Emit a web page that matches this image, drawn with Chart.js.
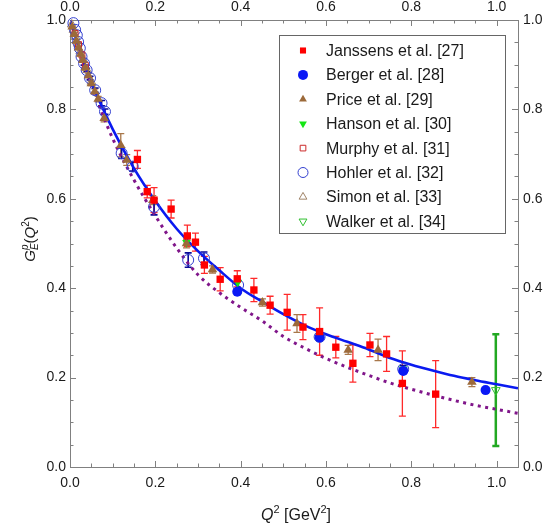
<!DOCTYPE html>
<html>
<head>
<meta charset="utf-8">
<script src="https://cdn.jsdelivr.net/npm/chart.js@4.4.0/dist/chart.umd.min.js"></script>
<style>
  html, body { margin: 0; padding: 0; background: #fff; }
  #wrap { width: 559px; height: 529px; position: relative; }
</style>
</head>
<body>
<div id="wrap"><canvas id="ffChart"></canvas></div>
<script>
// values: Q^2 [GeV^2], G_E^p, error
var janX = [0.158, 0.181, 0.197, 0.237, 0.275, 0.294, 0.315, 0.352, 0.392, 0.431, 0.469, 0.509, 0.546, 0.585, 0.623, 0.663, 0.703, 0.742, 0.779, 0.857];
var janY = [0.688, 0.616, 0.597, 0.577, 0.517, 0.503, 0.452, 0.420, 0.421, 0.396, 0.362, 0.346, 0.313, 0.303, 0.268, 0.232, 0.273, 0.253, 0.187, 0.163];
var janErr = [0.020, 0.014, 0.028, 0.020, 0.024, 0.020, 0.019, 0.026, 0.018, 0.026, 0.020, 0.040, 0.028, 0.053, 0.024, 0.042, 0.026, 0.039, 0.073, 0.075];

var berX = [0.392, 0.585, 0.781, 0.974];
var berY = [0.392, 0.290, 0.215, 0.172];

var priX = [0.005, 0.010, 0.015, 0.020, 0.025, 0.030, 0.036, 0.043, 0.050, 0.058, 0.066, 0.080, 0.119, 0.133, 0.194, 0.273, 0.334, 0.451, 0.532, 0.652, 0.722, 0.942];
var priY = [0.985, 0.968, 0.953, 0.938, 0.924, 0.910, 0.893, 0.876, 0.858, 0.840, 0.823, 0.780, 0.720, 0.687, 0.597, 0.500, 0.442, 0.368, 0.321, 0.262, 0.262, 0.190];
var priErr = [0.004, 0.004, 0.004, 0.004, 0.004, 0.004, 0.005, 0.005, 0.005, 0.006, 0.006, 0.008, 0.026, 0.012, 0.010, 0.010, 0.008, 0.008, 0.020, 0.010, 0.024, 0.010];

var hanX = [0.273, 0.393, 0.585, 0.781];
var hanY = [0.502, 0.413, 0.291, 0.219];

var murX = [0.012, 0.020, 0.028, 0.036];
var murY = [0.970, 0.945, 0.922, 0.898];

var hohX = [0.008, 0.012, 0.016, 0.019, 0.023, 0.027, 0.033, 0.039, 0.047, 0.059, 0.074, 0.082, 0.121, 0.147, 0.197, 0.277, 0.314, 0.394, 0.585, 0.781];
var hohY = [0.993, 0.978, 0.966, 0.951, 0.937, 0.918, 0.903, 0.888, 0.870, 0.843, 0.814, 0.795, 0.702, 0.672, 0.582, 0.463, 0.467, 0.407, 0.291, 0.219];
var hohErr = [0.003, 0.003, 0.003, 0.003, 0.003, 0.003, 0.004, 0.004, 0.004, 0.005, 0.006, 0.006, 0.012, 0.010, 0.018, 0.016, 0.014, 0.010, 0.008, 0.008];

var simX = [0.004, 0.008, 0.013, 0.018, 0.024, 0.030, 0.040, 0.050];
var simY = [0.990, 0.978, 0.962, 0.947, 0.930, 0.912, 0.888, 0.862];

var walX = [0.998];
var walY = [0.172];
var walErr = [0.125];

// the two curves, read at fixed Q^2 steps
var curveX = [0, 0.05, 0.10, 0.15, 0.20, 0.25, 0.30, 0.35, 0.40, 0.45, 0.50, 0.55, 0.60, 0.65, 0.70, 0.75, 0.80, 0.85, 0.90, 0.95, 1.00, 1.05];
var fitY = [1.0, 0.862, 0.756, 0.668, 0.595, 0.533, 0.483, 0.440, 0.400, 0.370, 0.342, 0.317, 0.297, 0.280, 0.263, 0.244, 0.229, 0.216, 0.204, 0.194, 0.185, 0.176];
var dotY = [1.0, 0.855, 0.735, 0.642, 0.562, 0.490, 0.430, 0.390, 0.357, 0.327, 0.292, 0.266, 0.243, 0.223, 0.205, 0.188, 0.174, 0.161, 0.149, 0.138, 0.129, 0.120];

var legendLabels = ['Janssens et al. [27]', 'Berger et al. [28]', 'Price et al. [29]', 'Hanson et al. [30]',
  'Murphy et al. [31]', 'Hohler et al. [32]', 'Simon et al. [33]', 'Walker et al. [34]'];

var FONT = '"Liberation Sans", Arial, Helvetica, sans-serif';
var frameColor = '#808080';
var textColor = '#1a1a1a';

function pts(xs, ys) {
  return xs.map(function (x, i) { return { x: x, y: ys[i] }; });
}

function markerSet(label, xs, ys, o) {
  return {
    label: label,
    data: pts(xs, ys),
    showLine: false,
    pointStyle: o.style,
    pointRotation: o.rot || 0,
    pointRadius: o.r,
    pointBackgroundColor: o.fill,
    pointBorderColor: o.stroke,
    pointBorderWidth: o.bw,
    errors: o.err || null,
    errColor: o.errColor,
    errWidth: o.errWidth || 1.3,
    legendR: o.lr,
    clip: 10,
    order: 1
  };
}

// error bars with caps, through the chart's own scales
var errorBars = {
  id: 'errorBars',
  beforeDatasetsDraw: function (chart) {
    var ctx = chart.ctx, xs = chart.scales.x, ys = chart.scales.y;
    chart.data.datasets.forEach(function (ds) {
      if (!ds.errors) return;
      ctx.save();
      ctx.strokeStyle = ds.errColor;
      ctx.lineWidth = ds.errWidth;
      ds.data.forEach(function (p, i) {
        var e = ds.errors[i];
        var px = xs.getPixelForValue(p.x);
        var y1 = ys.getPixelForValue(p.y + e), y2 = ys.getPixelForValue(p.y - e);
        if (y2 - y1 < 3) return;
        ctx.beginPath();
        ctx.moveTo(px, y1); ctx.lineTo(px, y2);
        ctx.moveTo(px - 3.5, y1); ctx.lineTo(px + 3.5, y1);
        ctx.moveTo(px - 3.5, y2); ctx.lineTo(px + 3.5, y2);
        ctx.stroke();
      });
      ctx.restore();
    });
  }
};

// inward ticks on all four sides of the frame
var frameTicks = {
  id: 'frameTicks',
  beforeDatasetsDraw: function (chart) {
    var ctx = chart.ctx, a = chart.chartArea, xs = chart.scales.x, ys = chart.scales.y;
    ctx.save();
    ctx.strokeStyle = frameColor;
    ctx.lineWidth = 1;
    ctx.beginPath();
    for (var k = 0; k <= 21; k++) {
      var px = Math.round(xs.getPixelForValue(k * 0.05)) + 0.5;
      var len = k % 4 === 0 ? 6 : 3.5;
      ctx.moveTo(px, a.bottom); ctx.lineTo(px, a.bottom - len);
      ctx.moveTo(px, a.top); ctx.lineTo(px, a.top + len);
    }
    for (var j = 0; j <= 20; j++) {
      var py = Math.round(ys.getPixelForValue(j * 0.05)) + 0.5;
      var l2 = j % 4 === 0 ? 6 : 3.5;
      ctx.moveTo(a.left, py); ctx.lineTo(a.left + l2, py);
      ctx.moveTo(a.right, py); ctx.lineTo(a.right - l2, py);
    }
    ctx.stroke();
    ctx.restore();
  }
};

function drawMarker(ctx, ds, r, x, y) {
  ctx.save();
  ctx.fillStyle = ds.pointBackgroundColor;
  ctx.strokeStyle = ds.pointBorderColor;
  ctx.lineWidth = ds.pointBorderWidth;
  Chart.helpers.drawPoint(ctx, {
    pointStyle: ds.pointStyle, rotation: ds.pointRotation, radius: r, borderWidth: ds.pointBorderWidth
  }, x, y);
  ctx.restore();
}

var legendBox = {
  id: 'legendBox',
  afterDraw: function (chart) {
    var ctx = chart.ctx;
    var bx = 279.5, by = 35.5, bw = 226, bh = 198;
    ctx.save();
    ctx.fillStyle = '#fff';
    ctx.fillRect(bx, by, bw, bh);
    ctx.strokeStyle = '#666';
    ctx.lineWidth = 1;
    ctx.strokeRect(bx, by, bw, bh);
    ctx.font = '16px ' + FONT;
    ctx.fillStyle = textColor;
    ctx.textBaseline = 'middle';
    var n = 0;
    chart.data.datasets.forEach(function (ds) {
      if (ds.showLine) return;
      var yy = 50.5 + n * 24.4;
      drawMarker(ctx, ds, ds.legendR, 303, yy);
      ctx.fillStyle = textColor;
      ctx.fillText(ds.label, 326, yy + 1);
      n++;
    });
    ctx.restore();
  }
};

// rich text: italics, sub- and superscripts
function drawRich(ctx, parts, cx, base) {
  var total = 0, prevW = 0;
  parts.forEach(function (p) {
    ctx.font = p.font;
    p.w = ctx.measureText(p.t).width;
    p.adv = p.stack ? 0 : (p.after ? Math.max(p.w, prevW) : p.w);
    prevW = p.w;
    total += p.adv;
  });
  var x = cx - total / 2;
  parts.forEach(function (p) {
    ctx.font = p.font;
    ctx.fillText(p.t, x, base + (p.dy || 0));
    x += p.adv;
  });
}

var axisTitles = {
  id: 'axisTitles',
  afterDraw: function (chart) {
    var ctx = chart.ctx;
    var big = '15px ' + FONT, bigI = 'italic 15px ' + FONT;
    var small = '10px ' + FONT, smallI = 'italic 10px ' + FONT;
    ctx.save();
    ctx.fillStyle = textColor;
    ctx.textBaseline = 'alphabetic';
    drawRich(ctx, [
      { t: 'Q', font: 'italic 16px ' + FONT },
      { t: '2', font: '11px ' + FONT, dy: -7 },
      { t: ' [GeV', font: '16px ' + FONT },
      { t: '2', font: '11px ' + FONT, dy: -7 },
      { t: ']', font: '16px ' + FONT }
    ], 296, 520);
    ctx.translate(35, 239);
    ctx.rotate(-Math.PI / 2);
    drawRich(ctx, [
      { t: 'G', font: bigI },
      { t: 'E', font: smallI, dy: 3, stack: true },
      { t: 'p', font: smallI, dy: -7, after: true },
      { t: '(', font: big },
      { t: 'Q', font: bigI },
      { t: '2', font: small, dy: -6 },
      { t: ')', font: big }
    ], 0, 0);
    ctx.restore();
  }
};

function axisOpts(pos, max, pad, size) {
  var horiz = pos === 'top' || pos === 'bottom';
  return {
    type: 'linear',
    position: pos,
    min: 0,
    max: max,
    afterFit: function (s) { if (horiz) s.height = size; else s.width = size; },
    grid: { display: false, drawTicks: false },
    border: { display: true, color: frameColor, width: 1 },
    ticks: {
      stepSize: 0.2,
      includeBounds: false,
      autoSkip: false,
      maxRotation: 0,
      padding: pad,
      color: textColor,
      font: { family: FONT, size: 14 },
      callback: function (v) { return Number(v).toFixed(1); }
    }
  };
}

new Chart(document.getElementById('ffChart'), {
  type: 'scatter',
  data: {
    datasets: [
      markerSet(legendLabels[0], janX, janY, { style: 'rect', r: 5.2, fill: '#ff0000', stroke: '#ff0000', bw: 0, err: janErr, errColor: '#ff2a2a', lr: 4.3 }),
      markerSet(legendLabels[1], berX, berY, { style: 'circle', r: 5, fill: '#0a18f5', stroke: '#0a18f5', bw: 0, lr: 5 }),
      markerSet(legendLabels[2], priX, priY, { style: 'triangle', r: 5.5, fill: '#9c6a3a', stroke: '#9c6a3a', bw: 0, err: priErr, errColor: '#a8774a', lr: 4.5 }),
      markerSet(legendLabels[3], hanX, hanY, { style: 'triangle', rot: 180, r: 5, fill: '#14e614', stroke: '#14e614', bw: 0, lr: 4.5 }),
      markerSet(legendLabels[4], murX, murY, { style: 'rect', r: 4.2, fill: 'rgba(0,0,0,0)', stroke: '#cc2a2a', bw: 1, lr: 4 }),
      markerSet(legendLabels[5], hohX, hohY, { style: 'circle', r: 5.5, fill: 'rgba(0,0,0,0)', stroke: '#3340d0', bw: 1, err: hohErr, errColor: '#0a0a99', errWidth: 1.6, lr: 5 }),
      markerSet(legendLabels[6], simX, simY, { style: 'triangle', r: 5, fill: 'rgba(0,0,0,0)', stroke: '#a08468', bw: 1, lr: 4.5 }),
      markerSet(legendLabels[7], walX, walY, { style: 'triangle', rot: 180, r: 5, fill: 'rgba(0,0,0,0)', stroke: '#30c030', bw: 1, err: walErr, errColor: '#22a822', errWidth: 2.5, lr: 4.5 }),
      {
        label: 'fit',
        data: pts(curveX, fitY),
        showLine: true,
        pointRadius: 0,
        borderColor: '#0a1af0',
        borderWidth: 2.6,
        cubicInterpolationMode: 'monotone',
        order: 10
      },
      {
        label: 'dotted',
        data: pts(curveX, dotY),
        showLine: true,
        pointRadius: 0,
        borderColor: '#80168a',
        borderWidth: 3,
        borderDash: [3, 4.5],
        cubicInterpolationMode: 'monotone',
        order: 11
      }
    ]
  },
  options: {
    responsive: true,
    maintainAspectRatio: false,
    animation: false,
    events: [],
    layout: { padding: 0 },
    plugins: { legend: { display: false }, tooltip: { enabled: false } },
    scales: {
      x: axisOpts('bottom', 1.05, 8, 62),
      x2: axisOpts('top', 1.05, 4, 20),
      y: axisOpts('left', 1.0, 4, 70),
      y2: axisOpts('right', 1.0, 5, 41)
    }
  },
  plugins: [errorBars, frameTicks, legendBox, axisTitles]
});
</script>
</body>
</html>
